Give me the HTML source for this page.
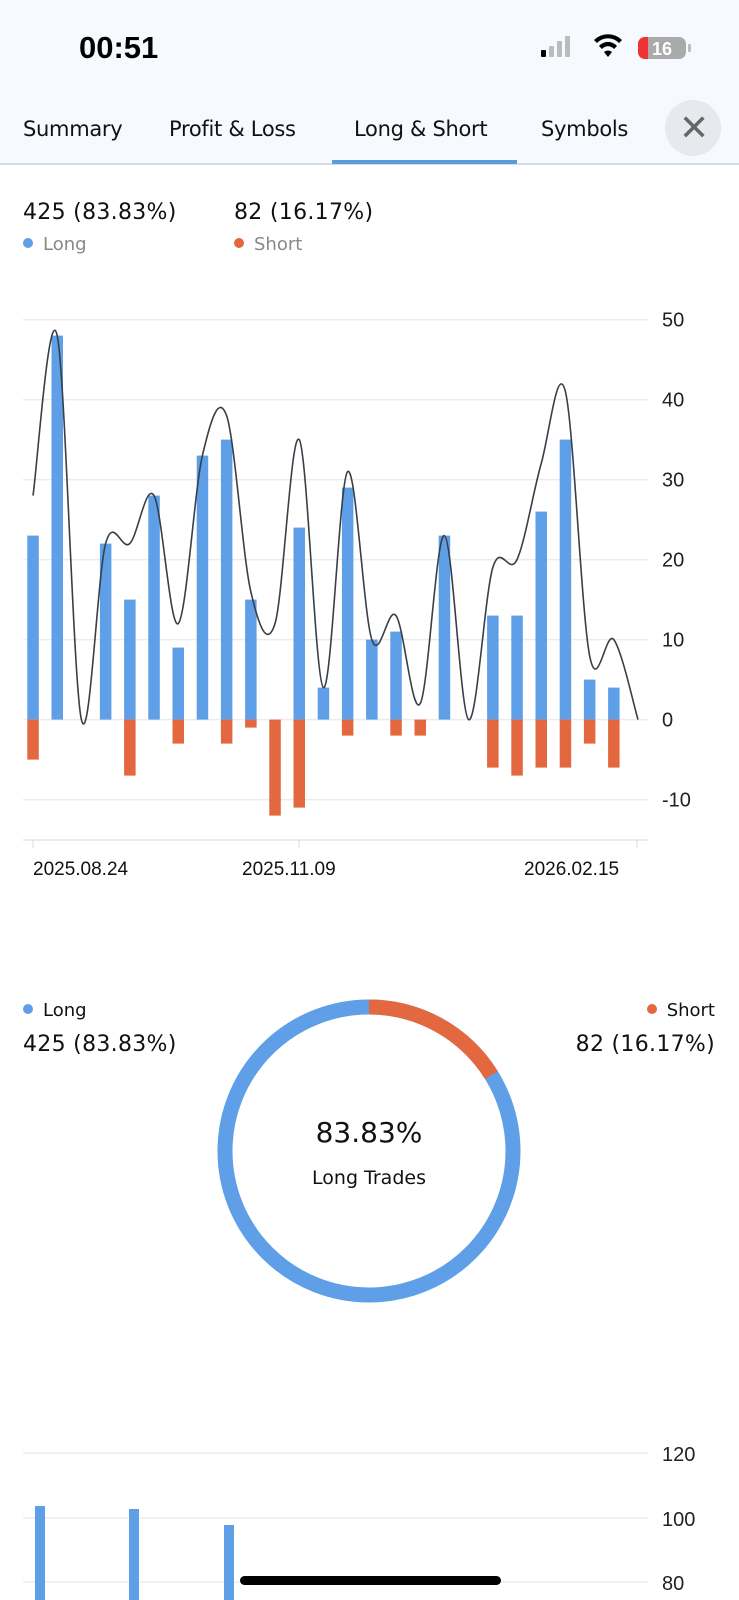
<!DOCTYPE html>
<html><head><meta charset="utf-8"><style>
body{margin:0;width:739px;height:1600px;overflow:hidden;background:#fff;font-family:"Liberation Sans",sans-serif;position:relative}
.hdr{position:absolute;left:0;top:0;width:739px;height:163px;background:#f6f9fd;border-bottom:2px solid #d5dde6}
.t{position:absolute;white-space:nowrap}
.tab{font-family:"DejaVu Sans","Liberation Sans",sans-serif;font-size:21px;color:#111;top:117px;letter-spacing:-0.3px}
.num{font-family:"DejaVu Sans","Liberation Sans",sans-serif;font-size:22px;color:#111;letter-spacing:0.3px}
.leg{font-family:"DejaVu Sans","Liberation Sans",sans-serif;font-size:18px;color:#888}
.dot{display:inline-block;width:10px;height:10px;border-radius:50%;margin-right:10px;vertical-align:2px}
</style></head><body>
<div class="hdr"></div>
<div class="t" style="left:79px;top:30px;font-size:31px;font-weight:bold;color:#000">00:51</div>
<svg style="position:absolute;left:535px;top:34px" width="160" height="30">
<rect x="6" y="16" width="5" height="7" rx="1" fill="#000"/>
<rect x="14" y="12" width="5" height="11" rx="1" fill="#bbb"/>
<rect x="22" y="7" width="5" height="16" rx="1" fill="#bbb"/>
<rect x="30" y="2" width="5" height="21" rx="1" fill="#bbb"/>
<path d="M59 6 a20 20 0 0 1 28 0 l-3 3 a15 15 0 0 0 -22 0z M64 12 a12 12 0 0 1 18 0 l-3 3 a8 8 0 0 0 -12 0z M69 18 l4 5 l4 -5 a6 6 0 0 0 -8 0z" fill="#000"/>
<rect x="103" y="3" width="48" height="22" rx="7" fill="#aaa"/>
<path d="M110 3 h3 v22 h-3 a7 7 0 0 1 -7 -7 v-8 a7 7 0 0 1 7 -7z" fill="#e33"/>
<rect x="153" y="10" width="3" height="8" rx="1" fill="#bbb"/>
<text x="127" y="21" font-size="18" font-weight="bold" fill="#fff" text-anchor="middle" font-family="Liberation Sans">16</text>
</svg>
<div class="t tab" style="left:23px">Summary</div>
<div class="t tab" style="left:169px">Profit &amp; Loss</div>
<div class="t tab" style="left:354px">Long &amp; Short</div>
<div class="t tab" style="left:541px">Symbols</div>
<div style="position:absolute;left:665px;top:100px;width:56px;height:56px;border-radius:50%;background:#e6e9ee"></div>
<div class="t" style="left:679px;top:108px;font-size:36px;color:#666;font-family:'DejaVu Sans',sans-serif">✕</div>
<div style="position:absolute;left:332px;top:160px;width:185px;height:4px;background:#5b9bd8"></div>

<div class="t num" style="left:23px;top:200px">425 (83.83%)</div>
<div class="t num" style="left:234px;top:200px">82 (16.17%)</div>
<div class="t leg" style="left:23px;top:234px"><span class="dot" style="background:#5e9fe8"></span>Long</div>
<div class="t leg" style="left:234px;top:234px"><span class="dot" style="background:#e4683f"></span>Short</div>

<svg id="c" style="position:absolute;left:0;top:0" width="739" height="900"></svg>

<div class="t leg" style="left:23px;top:1000px;color:#111"><span class="dot" style="background:#5e9fe8"></span>Long</div>
<div class="t num" style="left:23px;top:1032px">425 (83.83%)</div>
<div class="t leg" style="right:24px;top:1000px;color:#111"><span class="dot" style="background:#e4683f"></span>Short</div>
<div class="t num" style="right:24px;top:1032px">82 (16.17%)</div>
<svg style="position:absolute;left:0;top:980px" width="739" height="360">
<circle cx="369" cy="171" r="144" fill="none" stroke="#5e9fe8" stroke-width="15"/>
<path id="arc" fill="none" stroke="#e4683f" stroke-width="15"/>
<text x="369" y="162" font-size="28" text-anchor="middle" font-family="DejaVu Sans,Liberation Sans" fill="#111">83.83%</text>
<text x="369" y="204" font-size="19" text-anchor="middle" font-family="DejaVu Sans,Liberation Sans" fill="#111">Long Trades</text>
</svg>

<svg style="position:absolute;left:0;top:1420px" width="739" height="180">
<line x1="23" x2="648" y1="33" y2="33" stroke="#eee" stroke-width="1.5"/>
<line x1="23" x2="648" y1="98" y2="98" stroke="#eee" stroke-width="1.5"/>
<line x1="23" x2="648" y1="162" y2="162" stroke="#eee" stroke-width="1.5"/>
<text x="662" y="41" font-size="20" fill="#222">120</text>
<text x="662" y="106" font-size="20" fill="#222">100</text>
<text x="662" y="170" font-size="20" fill="#222">80</text>
<rect x="35" y="86" width="10" height="100" fill="#5e9fe8"/>
<rect x="129" y="89" width="10" height="100" fill="#5e9fe8"/>
<rect x="224" y="105" width="10" height="100" fill="#5e9fe8"/>
<rect x="240" y="156" width="261" height="9" rx="4.5" fill="#000"/>
</svg>
<script>
var s=document.getElementById('c'),h='';
var y0=719.6,k=8.0;function Y(v){return y0-v*k}
[50,40,30,20,10,0,-10].forEach(function(v){h+='<line x1="23" x2="648" y1="'+Y(v)+'" y2="'+Y(v)+'" stroke="#ececec" stroke-width="1.5"/>';
h+='<text x="662" y="'+(Y(v)+7)+'" font-size="20" fill="#222" font-family="Liberation Sans">'+v+'</text>';});
h+='<line x1="23" x2="648" y1="840" y2="840" stroke="#e4e4e4" stroke-width="1.5"/>';
var L=[23,48,0,22,15,28,9,33,35,15,0,24,4,29,10,11,0,23,0,13,13,26,35,5,4,0];
var S=[5,0,0,0,7,0,3,0,3,1,12,11,0,2,0,2,2,0,0,6,7,6,6,3,6,0];
var T=[28,48,0,22,22,28,12,33,38,16,12,35,4,31,10,13,2,23,0,19,20,32,41,8,10,0];
function X(i){return 33+24.2*i}
for(var i=0;i<26;i++){if(L[i])h+='<rect x="'+(X(i)-5.7)+'" y="'+Y(L[i])+'" width="11.5" height="'+(L[i]*k)+'" fill="#5e9fe8"/>';
if(S[i])h+='<rect x="'+(X(i)-5.7)+'" y="'+y0+'" width="11.5" height="'+(S[i]*k)+'" fill="#e4683f"/>';}
var P=T.map(function(v,i){return [X(i),Y(v)]});var d='M'+P[0];
for(var i=0;i<25;i++){var p0=P[Math.max(i-1,0)],p1=P[i],p2=P[i+1],p3=P[Math.min(i+2,25)];
d+=' C'+(p1[0]+(p2[0]-p0[0])/6)+','+(p1[1]+(p2[1]-p0[1])/6)+' '+(p2[0]-(p3[0]-p1[0])/6)+','+(p2[1]-(p3[1]-p1[1])/6)+' '+p2[0]+','+p2[1];}
h+='<path d="'+d+'" fill="none" stroke="#3a3f47" stroke-width="1.6"/>';
[33,299,637].forEach(function(x){h+='<line x1="'+x+'" x2="'+x+'" y1="840" y2="848" stroke="#ddd"/>';});
h+='<text x="33" y="875" font-size="19" fill="#111" font-family="Liberation Sans">2025.08.24</text>';
h+='<text x="242" y="875" font-size="19" fill="#111" font-family="Liberation Sans">2025.11.09</text>';
h+='<text x="524" y="875" font-size="19" fill="#111" font-family="Liberation Sans">2026.02.15</text>';
s.innerHTML=h;
var a=0.1617*2*Math.PI,r=144,cx=369,cy=171;
document.getElementById('arc').setAttribute('d','M'+cx+','+(cy-r)+' A'+r+','+r+' 0 0 1 '+(cx+r*Math.sin(a))+','+(cy-r*Math.cos(a)));
</script>
</body></html>
